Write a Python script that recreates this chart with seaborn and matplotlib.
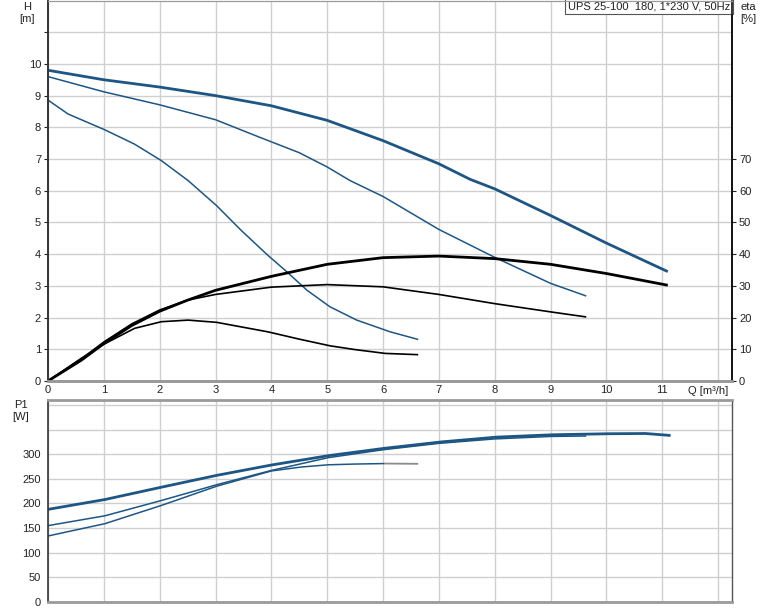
import numpy as np
import pandas as pd
import matplotlib
matplotlib.use("Agg")
import matplotlib.pyplot as plt
import seaborn as sns

# H(Q) curves (Q in m3/h, H in m)
q_h_max = [0, 1, 2, 3, 4, 5, 6, 7, 7.56, 8, 9, 10, 11.1]
h_max = [9.8, 9.5, 9.27, 9.0, 8.68, 8.22, 7.58, 6.85, 6.36, 6.06, 5.22, 4.35, 3.45]
q_h_mid = [0, 1, 2, 3, 3.8, 4.5, 5, 5.41, 6, 7, 8, 9, 9.64]
h_mid = [9.6, 9.12, 8.71, 8.24, 7.68, 7.2, 6.75, 6.32, 5.82, 4.78, 3.9, 3.08, 2.68]
q_h_low = [0, 0.36, 1.02, 1.55, 2.03, 2.51, 3.02, 3.46, 3.94, 4.28, 4.64, 5.05, 5.53, 6.13, 6.63]
h_low = [8.86, 8.42, 7.92, 7.47, 6.95, 6.32, 5.53, 4.75, 3.96, 3.44, 2.86, 2.34, 1.92, 1.55, 1.31]

# eta(Q) curves [%]
q_eta_max = [0, 0.6, 1, 1.5, 2, 2.5, 3, 4, 5, 6, 7, 8, 9, 10, 11.1]
eta_max = [0, 6.6, 11.8, 17.5, 22.0, 25.5, 28.6, 33.0, 36.8, 38.9, 39.4, 38.6, 36.8, 33.9, 30.2]
q_eta_mid = [0, 0.6, 1, 1.5, 2, 2.5, 3, 4, 5, 6, 7, 8, 9, 9.64]
eta_mid = [0, 7.0, 12.3, 18.0, 22.4, 25.5, 27.3, 29.6, 30.4, 29.7, 27.3, 24.4, 21.8, 20.2]
q_eta_low = [0, 0.6, 1, 1.55, 2.03, 2.51, 3.02, 3.94, 4.5, 5.05, 5.5, 6.04, 6.63]
eta_low = [0, 7.2, 11.6, 16.6, 18.7, 19.2, 18.5, 15.5, 13.2, 11.1, 9.9, 8.7, 8.3]

# P1(Q) curves [W]
q_p_max = [0, 1.02, 2.03, 3.02, 4.0, 5.02, 6.03, 7.05, 8.04, 9.05, 10.04, 10.7, 11.15]
p_max = [188, 208, 233, 257, 278, 297, 312, 325, 334.7, 339.5, 341.5, 342, 338]
q_p_mid = [0, 1.02, 2.03, 3.02, 4.0, 5.02, 6, 7, 8, 9, 9.64]
p_mid = [155, 175, 206, 238, 267, 293, 309, 322, 331, 336, 337]
q_p_low = [0, 1.02, 2.03, 3.02, 4.0, 4.54, 5.02, 5.5, 6.03, 6.63]
p_low = [134, 159, 196, 235, 266, 274, 278.5, 280, 281, 280.5]

x_ticks = list(range(0, 12))
h_ticks = list(range(0, 11))
eta_ticks = list(range(0, 80, 10))
p_ticks = list(range(0, 350, 50))

title_text = "UPS 25-100  180, 1*230 V, 50Hz"

sns.set_style("white")
plt.rcParams['font.family'] = ['Liberation Sans', 'DejaVu Sans']

blue = "#1d5685"
grid_c = "#cfcfcf"
txt_c = "#222222"
fs = 8

fig = plt.figure(figsize=(7.74, 6.11), dpi=100)
ax = fig.add_axes([48 / 774, 1 - 381 / 611, (732 - 48) / 774, 380.5 / 611])
ax2 = ax.twinx()
axp = fig.add_axes([48 / 774, 1 - 602 / 611, (732 - 48) / 774, 202 / 611])


def curve(a, q, v, color, lw):
    df = pd.DataFrame({"Q": q, "v": v})
    sns.lineplot(data=df, x="Q", y="v", ax=a, color=color, linewidth=lw, sort=False,
                 estimator=None, solid_joinstyle="round", solid_capstyle="butt")


# H curves
curve(ax, q_h_max, h_max, blue, 2.0)
curve(ax, q_h_mid, h_mid, blue, 1.1)
curve(ax, q_h_low, h_low, blue, 1.1)
# eta curves on right axis
curve(ax2, q_eta_max, eta_max, "black", 2.0)
curve(ax2, q_eta_mid, eta_mid, "black", 1.2)
curve(ax2, q_eta_low, eta_low, "black", 1.2)
# power curves (last stretch of the low curve is drawn grey in the original)
curve(axp, q_p_max, p_max, blue, 2.0)
curve(axp, q_p_mid, p_mid, blue, 1.1)
curve(axp, q_p_low[:-1], p_low[:-1], blue, 1.1)
curve(axp, q_p_low[-2:], p_low[-2:], "#8a8a8a", 1.3)

xmax = 12.25
for a in (ax, axp):
    a.set_xlim(0, xmax)
    a.set_xticks(list(range(0, 13)))
    a.grid(True, color=grid_c, linewidth=1.0)
    a.set_axisbelow(True)
    a.set_xlabel("")
    a.set_ylabel("")
    a.tick_params(axis="both", labelsize=fs, colors=txt_c, length=3, width=0.8, pad=2)

ax.set_ylim(0, 12)
ax.set_yticks(list(range(0, 12)))
ax.set_yticklabels([str(t) if t in h_ticks else "" for t in range(0, 12)])
ax.set_xticklabels([str(t) if t in x_ticks else "" for t in range(0, 13)])
ax.tick_params(axis="x", length=0, pad=3)

ax2.set_ylim(0, 120)
ax2.set_yticks(eta_ticks)
ax2.set_ylabel("")
ax2.tick_params(axis="y", labelsize=fs, colors=txt_c, length=3, width=0.8, pad=2)
ax2.grid(False)

axp.set_ylim(0, 410)
axp.set_yticks(list(range(0, 450, 50)))
axp.set_yticklabels([str(t) if t in p_ticks else "" for t in range(0, 450, 50)])
axp.set_xticklabels([])
axp.tick_params(axis="x", length=0)

# spines
for a in (ax, ax2):
    a.spines["top"].set_color("#9a9a9a")
    a.spines["bottom"].set_color("#9a9a9a")
    a.spines["bottom"].set_linewidth(2.0)
    a.spines["left"].set_color("#333333")
    a.spines["right"].set_color("#111111")
    a.spines["left"].set_linewidth(1.2)
    a.spines["right"].set_linewidth(1.2)
axp.spines["top"].set_color("#9a9a9a")
axp.spines["top"].set_linewidth(2.0)
axp.spines["bottom"].set_color("#9a9a9a")
axp.spines["bottom"].set_linewidth(2.0)
axp.spines["left"].set_color("#333333")
axp.spines["left"].set_linewidth(1.2)
axp.spines["right"].set_color("#555555")
axp.spines["right"].set_linewidth(1.0)

# axis captions
fig.text(27 / 774, 1 - 13 / 611, "H\n[m]", ha="center", va="center", fontsize=fs,
         color=txt_c, linespacing=1.25)
fig.text(748 / 774, 1 - 13 / 611, "eta\n[%]", ha="center", va="center", fontsize=fs,
         color=txt_c, linespacing=1.25)
fig.text(21 / 774, 1 - 411 / 611, "P1\n[W]", ha="center", va="center", fontsize=fs,
         color=txt_c, linespacing=1.25)
ax.text(11.83, -0.33, "Q [m³/h]", ha="center", va="center", fontsize=fs, color=txt_c)

# title box
ax.text(0.997, 0.997, title_text, transform=ax.transAxes, ha="right", va="top",
        fontsize=fs, color=txt_c,
        bbox=dict(boxstyle="square,pad=0.25", facecolor="white", edgecolor="#555555",
                  linewidth=0.8))

fig.savefig("out.png", dpi=100)
